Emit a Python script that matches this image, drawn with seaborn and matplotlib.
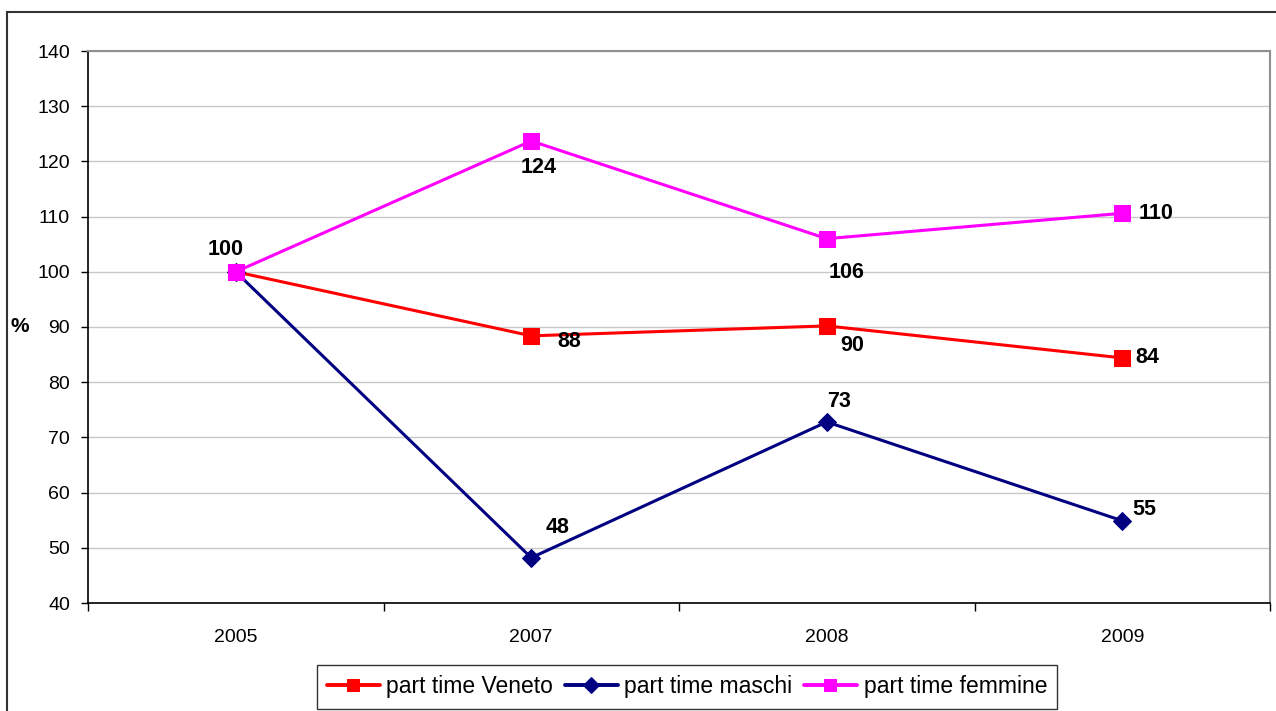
import matplotlib
matplotlib.use("Agg")
import matplotlib.pyplot as plt
import matplotlib.patches as mpatches
import seaborn as sns
import pandas as pd

years = ["2005", "2007", "2008", "2009"]
veneto = [100, 88.4, 90.2, 84.4]
maschi = [100, 48.2, 72.8, 54.9]
femmine = [100, 123.7, 106.0, 110.6]
veneto_labels = ["", "88", "90", "84"]
maschi_labels = ["", "48", "73", "55"]
femmine_labels = ["100", "124", "106", "110"]

sns.set_theme(style="white")
plt.rcParams["font.family"] = ["Liberation Sans", "DejaVu Sans"]
plt.rcParams["text.color"] = "black"
plt.rcParams["xtick.color"] = "black"
plt.rcParams["ytick.color"] = "black"

fig = plt.figure(figsize=(12.76, 7.11), dpi=100)
ax = fig.add_axes([88 / 1276, 108 / 711, 1182 / 1276, 552 / 711])

x = list(range(len(years)))
df = pd.DataFrame({"x": x, "veneto": veneto, "maschi": maschi, "femmine": femmine})

series = [
    ("veneto", "part time Veneto", "#FF0000", "s", 11),
    ("maschi", "part time maschi", "#000080", "D", 9),
    ("femmine", "part time femmine", "#FF00FF", "s", 11),
]
for col, name, color, marker, ms in series:
    sns.lineplot(data=df, x="x", y=col, ax=ax, color=color, linewidth=2.2,
                 marker=marker, markersize=ms, markeredgecolor=color,
                 label=name)

# value labels: (series values, labels, offsets in points)
label_specs = [
    (veneto, veneto_labels, [(0, 0), (27, -4), (18, -14), (18, 0)]),
    (maschi, maschi_labels, [(0, 0), (19, 22), (9, 15), (16, 8)]),
    (femmine, femmine_labels, [(-7, 16), (5, -19), (14, -24), (24, 0)]),
]
for vals, labs, offs in label_specs:
    for xi, v, lab, off in zip(x, vals, labs, offs):
        if lab:
            ax.annotate(lab, (xi, v), xytext=off, textcoords="offset points",
                        ha="center", va="center", fontsize=15.5,
                        fontweight="bold", color="black")

ax.set_xlim(-0.5, 3.5)
ax.set_ylim(40, 140)
ax.set_yticks(range(40, 141, 10))
ax.set_xticks(x)
ax.set_xticklabels(years)
ax.set_xticks([-0.5, 0.5, 1.5, 2.5, 3.5], minor=True)
ax.tick_params(axis="x", which="major", length=0, pad=19, labelsize=14,
               labelcolor="black")
ax.tick_params(axis="x", which="minor", length=6, width=1, color="black",
               direction="out", bottom=True)
ax.tick_params(axis="y", length=5, width=1, color="black", direction="out",
               left=True, labelsize=14, pad=8, labelcolor="black")
ax.yaxis.grid(True, color="#C8C8C8", linewidth=1)
ax.set_axisbelow(True)
ax.set_xlabel("")
ax.set_ylabel("%", rotation=0, fontsize=15, fontweight="bold", labelpad=0,
              color="black", va="center")
ax.yaxis.set_label_coords(-0.058, 0.5)

for side in ["left", "bottom"]:
    ax.spines[side].set_color("black")
    ax.spines[side].set_linewidth(1.2)
for side in ["top", "right"]:
    ax.spines[side].set_color("#909090")
    ax.spines[side].set_linewidth(1.5)

leg = ax.legend(loc="upper center", bbox_to_anchor=(687 / 1276, 1 - 665 / 711),
                bbox_transform=fig.transFigure, ncol=3, frameon=True,
                fontsize=16.5, fancybox=False, edgecolor="black",
                handlelength=2.3, handletextpad=0.3, columnspacing=0.5,
                borderpad=0.45, borderaxespad=0, markerscale=0.85)
leg.get_frame().set_linewidth(1.0)
for line in leg.get_lines():
    line.set_linewidth(2.8)

# outer chart frame
fig.add_artist(mpatches.Rectangle((7 / 1276, -0.2), 1.2, 1 - 12 / 711 + 0.2,
                                  transform=fig.transFigure, fill=False,
                                  edgecolor="#333333", linewidth=1.5,
                                  clip_on=False))

fig.savefig("out.png", dpi=100)
